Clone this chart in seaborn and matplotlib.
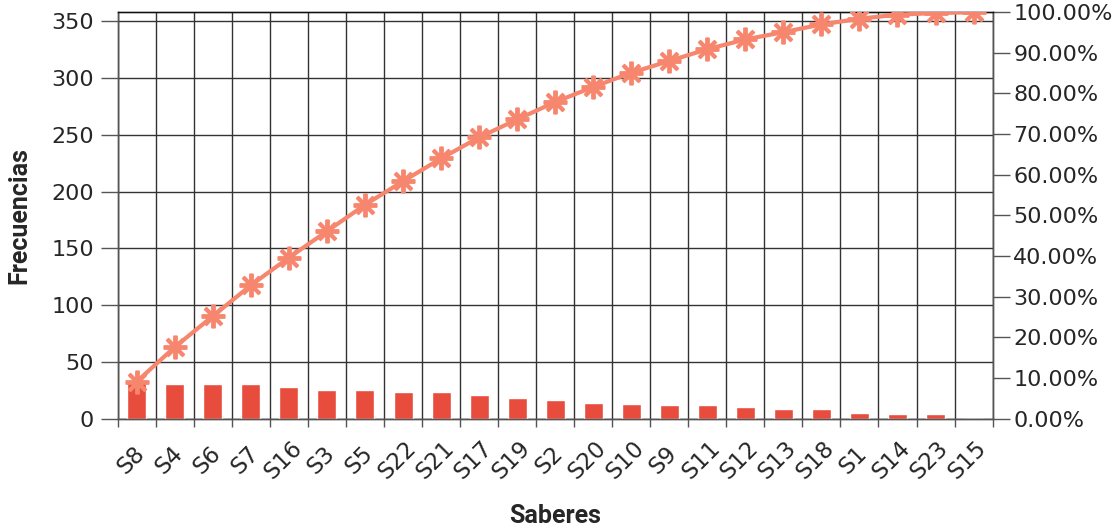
import numpy as np
import pandas as pd
import seaborn as sns
import matplotlib.pyplot as plt
import matplotlib.transforms as mtransforms
from matplotlib.ticker import FixedLocator, FuncFormatter

saberes = ['S8', 'S4', 'S6', 'S7', 'S16', 'S3', 'S5', 'S22', 'S21', 'S17', 'S19', 'S2',
           'S20', 'S10', 'S9', 'S11', 'S12', 'S13', 'S18', 'S1', 'S14', 'S23', 'S15']
frecuencias = [33, 30, 30, 30, 28, 25, 25, 23, 23, 21, 18, 16,
               14, 13, 12, 12, 10, 8, 8, 5, 4, 4, 0]
# porcentaje acumulado
acumulado = [9.1, 17.6, 25.2, 32.8, 39.6, 46.1, 52.6, 58.4, 64.0, 69.2, 73.6, 77.9,
             81.6, 85.1, 88.0, 90.9, 93.3, 95.1, 97.0, 98.4, 99.4, 99.8, 100.0]

df = pd.DataFrame({'saber': saberes, 'frecuencia': frecuencias, 'acumulado': acumulado})
df['pos'] = df.index

sns.set_style('white')
plt.rcParams['font.family'] = ['DejaVu Sans']

fig, ax = plt.subplots(figsize=(11.14, 5.32), dpi=100)
fig.subplots_adjust(left=0.1057, right=0.891, top=0.977, bottom=0.2133)

sns.barplot(data=df, x='pos', y='frecuencia', color='#E74C3C', saturation=1,
            width=0.5, ax=ax, zorder=3)
ax.set_ylim(0, 358)
ax.set_xlim(-0.5, len(saberes) - 0.5)

ax2 = ax.twinx()
sns.lineplot(data=df, x='pos', y='acumulado', color='#F7866E', lw=3,
             marker=(8, 2, 0), markersize=17, markeredgewidth=2.8,
             markeredgecolor='#F7866E', ax=ax2, zorder=4)
ax2.set_ylim(0, 100)
ax2.set_xlim(-0.5, len(saberes) - 0.5)

# ticks en los bordes de cada categoria, etiquetas al centro
bordes = np.arange(len(saberes) + 1) - 0.5
ax.xaxis.set_major_locator(FixedLocator(bordes))
ax.xaxis.set_minor_locator(FixedLocator(df['pos']))
ax.set_xticklabels([], minor=False)
ax.set_xticklabels(saberes, minor=True, rotation=45, ha='center',
                   rotation_mode='anchor', va='center')
ax.tick_params(axis='x', which='major', length=6, width=1, color='#555', bottom=True)
ax.tick_params(axis='x', which='minor', length=0, pad=30, labelsize=16.5)
desplaza = mtransforms.ScaledTranslation(-6 / 100, 0, fig.dpi_scale_trans)
for lab in ax.get_xticklabels(minor=True):
    lab.set_transform(lab.get_transform() + desplaza)

ax.set_yticks(np.arange(0, 351, 50))
ax.tick_params(axis='y', length=12, width=1, color='#555', labelsize=16, pad=5, left=True)
ax2.set_yticks(np.arange(0, 101, 10))
ax2.yaxis.set_major_formatter(FuncFormatter(lambda v, p: f'{v:.2f}%'))
ax2.tick_params(axis='y', length=12, width=1, color='#555', labelsize=16, pad=3, right=True)
ax2.set_ylabel('')

ax.grid(True, which='major', axis='both', color='#333', lw=1)
ax.set_axisbelow(True)

for a in (ax, ax2):
    for s in a.spines.values():
        s.set_color('#555')
        s.set_linewidth(1)
ax2.spines['top'].set_color('#111')

ax.set_xlabel('Saberes', fontsize=18, fontweight='bold', family='Roboto')
ax.set_ylabel('Frecuencias', fontsize=18, fontweight='bold', family='Roboto')
ax.xaxis.set_label_coords(0.5, -0.21)
ax.yaxis.set_label_coords(-0.099, 0.5)

fig.savefig('out.png', dpi=100)
